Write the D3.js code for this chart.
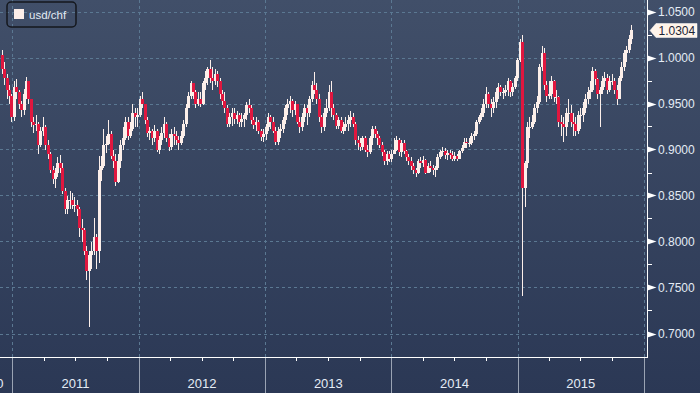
<!DOCTYPE html>
<html><head><meta charset="utf-8">
<script src="https://cdn.jsdelivr.net/npm/d3@7"></script>
<style>html,body{margin:0;padding:0;background:#2d3a57;overflow:hidden}</style>
</head><body>
<svg id="chart" width="700" height="393"></svg>
<script>
// ---- DATA (weekly candles, week ending Friday) ----
const seriesName = "usd/chf";
const firstWeekEnd = [2010, 11, 3];   // 3 Dec 2010
const firstOpen = 1.003;
const close2010 = [0.988,0.978,0.965,0.958,0.935];
const high2010  = [1.008,0.995,0.982,0.970,0.960];
const low2010   = [0.982,0.970,0.955,0.950,0.930];
const close2011 = [0.968,0.962,0.950,0.943,0.960,0.974,0.955,0.930,0.927,0.928,0.905,0.920,0.925,0.905,0.895,0.878,0.868,0.875,0.885,0.880,0.855,0.835,0.845,0.845,0.840,0.840,0.835,0.815,0.812,0.790,0.768,0.785,0.790,0.805,0.790,0.878,0.882,0.905,0.906,0.917,0.893,0.888,0.865,0.887,0.905,0.912,0.930,0.915,0.922,0.940,0.935,0.938];
const high2011  = [0.975,0.977,0.965,0.953,0.966,0.979,0.975,0.955,0.935,0.937,0.930,0.925,0.935,0.927,0.910,0.897,0.882,0.880,0.892,0.894,0.885,0.858,0.850,0.855,0.853,0.848,0.845,0.838,0.825,0.815,0.795,0.790,0.800,0.826,0.808,0.893,0.893,0.922,0.915,0.932,0.920,0.900,0.895,0.895,0.910,0.925,0.935,0.935,0.930,0.950,0.945,0.945];
const low2011   = [0.931,0.955,0.944,0.935,0.937,0.955,0.950,0.925,0.918,0.920,0.895,0.903,0.915,0.900,0.890,0.875,0.862,0.858,0.870,0.875,0.852,0.830,0.830,0.835,0.835,0.832,0.828,0.805,0.800,0.785,0.758,0.707,0.770,0.785,0.770,0.777,0.866,0.880,0.896,0.905,0.890,0.880,0.860,0.864,0.880,0.900,0.910,0.910,0.912,0.920,0.925,0.925];
const close2012 = [0.955,0.950,0.932,0.918,0.920,0.913,0.920,0.900,0.910,0.918,0.928,0.912,0.903,0.917,0.915,0.910,0.907,0.915,0.928,0.945,0.958,0.972,0.962,0.950,0.955,0.950,0.972,0.978,0.987,0.978,0.975,0.982,0.974,0.960,0.953,0.945,0.928,0.935,0.940,0.933,0.937,0.930,0.933,0.937,0.948,0.945,0.932,0.927,0.930,0.920,0.914,0.917];
const high2012  = [0.958,0.962,0.950,0.935,0.925,0.922,0.927,0.922,0.915,0.925,0.935,0.930,0.917,0.922,0.925,0.920,0.915,0.920,0.932,0.950,0.962,0.975,0.972,0.965,0.962,0.963,0.975,0.985,0.990,0.997,0.990,0.987,0.985,0.978,0.965,0.962,0.948,0.940,0.945,0.945,0.942,0.940,0.940,0.940,0.952,0.955,0.948,0.935,0.935,0.932,0.922,0.922];
const low2012   = [0.935,0.945,0.928,0.914,0.910,0.905,0.908,0.897,0.895,0.905,0.912,0.908,0.898,0.900,0.905,0.905,0.900,0.905,0.912,0.925,0.945,0.955,0.955,0.945,0.947,0.946,0.948,0.965,0.970,0.972,0.965,0.970,0.968,0.955,0.948,0.940,0.925,0.925,0.926,0.928,0.928,0.925,0.925,0.925,0.932,0.940,0.928,0.922,0.920,0.917,0.909,0.908];
const close2013 = [0.925,0.935,0.930,0.920,0.908,0.920,0.922,0.932,0.945,0.950,0.953,0.943,0.950,0.930,0.925,0.935,0.945,0.940,0.955,0.970,0.965,0.955,0.935,0.925,0.940,0.945,0.962,0.945,0.938,0.926,0.932,0.920,0.924,0.928,0.932,0.935,0.928,0.910,0.907,0.903,0.912,0.900,0.897,0.912,0.922,0.917,0.912,0.905,0.897,0.888,0.895,0.890];
const high2013  = [0.928,0.940,0.938,0.935,0.925,0.925,0.928,0.935,0.948,0.955,0.958,0.955,0.953,0.948,0.935,0.940,0.950,0.948,0.958,0.975,0.984,0.972,0.960,0.938,0.945,0.955,0.970,0.975,0.950,0.940,0.935,0.935,0.930,0.935,0.938,0.942,0.940,0.930,0.915,0.912,0.915,0.915,0.905,0.915,0.926,0.926,0.920,0.915,0.908,0.900,0.898,0.898];
const low2013   = [0.910,0.920,0.922,0.918,0.905,0.905,0.912,0.918,0.928,0.938,0.940,0.935,0.938,0.928,0.918,0.920,0.930,0.927,0.935,0.952,0.960,0.950,0.930,0.918,0.920,0.935,0.942,0.935,0.932,0.922,0.922,0.918,0.917,0.920,0.920,0.925,0.925,0.905,0.900,0.898,0.900,0.897,0.892,0.895,0.905,0.912,0.905,0.902,0.893,0.883,0.883,0.886];
const close2014 = [0.895,0.900,0.910,0.897,0.907,0.898,0.892,0.888,0.882,0.878,0.875,0.887,0.885,0.889,0.875,0.882,0.880,0.878,0.880,0.892,0.897,0.898,0.894,0.896,0.894,0.890,0.893,0.890,0.898,0.902,0.908,0.907,0.907,0.915,0.917,0.930,0.935,0.940,0.950,0.960,0.950,0.945,0.952,0.962,0.968,0.962,0.963,0.965,0.975,0.962,0.968,0.978];
const high2014  = [0.900,0.912,0.915,0.912,0.910,0.910,0.900,0.895,0.892,0.885,0.880,0.890,0.892,0.893,0.890,0.885,0.887,0.883,0.882,0.895,0.900,0.903,0.902,0.900,0.900,0.898,0.897,0.895,0.900,0.905,0.912,0.913,0.912,0.918,0.920,0.932,0.938,0.945,0.955,0.968,0.962,0.955,0.957,0.967,0.972,0.970,0.967,0.970,0.978,0.976,0.972,0.980];
const low2014   = [0.886,0.895,0.898,0.893,0.892,0.895,0.888,0.883,0.878,0.873,0.870,0.873,0.880,0.881,0.873,0.875,0.876,0.872,0.870,0.878,0.890,0.893,0.890,0.889,0.890,0.888,0.887,0.887,0.890,0.896,0.902,0.902,0.903,0.905,0.910,0.915,0.928,0.932,0.935,0.945,0.945,0.935,0.940,0.945,0.955,0.958,0.955,0.958,0.958,0.957,0.958,0.966];
const close2015 = [0.997,1.017,0.858,0.885,0.925,0.925,0.930,0.945,0.952,0.990,1.005,0.970,0.958,0.960,0.975,0.957,0.957,0.930,0.928,0.925,0.940,0.940,0.930,0.928,0.920,0.937,0.938,0.945,0.955,0.962,0.965,0.985,0.977,0.960,0.965,0.975,0.978,0.965,0.975,0.975,0.965,0.955,0.978,0.990,1.005,1.008,1.020,1.0304];
const high2015  = [1.000,1.020,1.024,0.888,0.930,0.935,0.938,0.950,0.958,0.993,1.013,1.010,0.975,0.975,0.980,0.976,0.965,0.958,0.938,0.935,0.945,0.955,0.948,0.940,0.935,0.942,0.945,0.952,0.960,0.968,0.975,0.990,0.988,0.978,0.968,0.980,0.984,0.982,0.980,0.982,0.978,0.970,0.980,0.995,1.008,1.012,1.025,1.035];
const low2015   = [0.975,0.995,0.741,0.838,0.880,0.912,0.922,0.928,0.940,0.950,0.985,0.965,0.952,0.955,0.955,0.952,0.950,0.925,0.915,0.908,0.915,0.930,0.925,0.915,0.915,0.917,0.922,0.930,0.940,0.950,0.955,0.962,0.970,0.955,0.925,0.960,0.968,0.960,0.962,0.970,0.960,0.948,0.955,0.975,0.985,0.995,1.005,1.015];
const yTicks = [0.70,0.75,0.80,0.85,0.90,0.95,1.00,1.05];
const yearLabels = ["2010","2011","2012","2013","2014","2015"];
const lastLabel = "1.0304";

// ---- BUILD ----
const closes = [].concat(close2010,close2011,close2012,close2013,close2014,close2015);
const highs  = [].concat(high2010,high2011,high2012,high2013,high2014,high2015);
const lows   = [].concat(low2010,low2011,low2012,low2013,low2014,low2015);
const candles = [];
let prevClose = firstOpen;
closes.forEach((c,i)=>{
  const end = new Date(firstWeekEnd[0], firstWeekEnd[1], firstWeekEnd[2] + 7*i);
  candles.push({date: d3.timeDay.offset(end,-2), o: prevClose, h: highs[i], l: lows[i], c});
  prevClose = c;
});

const W = 700, H = 393, plotR = 647.5, axisY = 357.5;
const svg = d3.select("#chart");
const defs = svg.append("defs");
const grad = defs.append("linearGradient").attr("id","bg").attr("x1",0).attr("y1",0).attr("x2",0).attr("y2",1);
grad.append("stop").attr("offset","0%").attr("stop-color","#414f69");
grad.append("stop").attr("offset","100%").attr("stop-color","#2b3855");
svg.append("rect").attr("width",W).attr("height",H).attr("fill","url(#bg)");
defs.append("clipPath").attr("id","plot").append("rect").attr("x",0).attr("y",0).attr("width",plotR).attr("height",axisY);

const x = d3.scaleTime().domain([new Date(2010,10,26), new Date(2016,0,10)]).range([0, 647]);
const y = d3.scaleLinear().domain([0.70,1.05]).range([333.5, 11.5]);

const grid = svg.append("g");
const years = yearLabels.map(s=>+s).concat([2016]).slice(1).map(yr=>new Date(yr,0,1));
grid.selectAll("line.h").data(yTicks).join("line")
  .attr("x1",0).attr("x2",plotR).attr("y1",d=>Math.round(y(d))+0.5).attr("y2",d=>Math.round(y(d))+0.5)
  .attr("stroke","#5b7892").attr("stroke-dasharray","3,3").attr("stroke-width",1);
grid.selectAll("line.v").data(years).join("line")
  .attr("x1",d=>Math.round(x(d))+0.5).attr("x2",d=>Math.round(x(d))+0.5).attr("y1",0).attr("y2",axisY)
  .attr("stroke","#5b7892").attr("stroke-dasharray","3,3").attr("stroke-width",1);

const cg = svg.append("g").attr("clip-path","url(#plot)").attr("shape-rendering","crispEdges");
const cream = "#fcefea", red = "#e0173f";
const cx = d => Math.round(x(d.date));
cg.selectAll("line.w").data(candles).join("line")
  .attr("x1",d=>cx(d)+0.5).attr("x2",d=>cx(d)+0.5)
  .attr("y1",d=>y(d.h)).attr("y2",d=>y(d.l))
  .attr("stroke",cream).attr("stroke-width",1);
cg.selectAll("rect.b").data(candles).join("rect")
  .attr("x",d=>cx(d)-1).attr("width",3)
  .attr("y",d=>y(Math.max(d.o,d.c)))
  .attr("height",d=>Math.max(1, Math.abs(y(d.o)-y(d.c))))
  .attr("fill",d=>d.c>=d.o?cream:red);

// axes
const ax = svg.append("g").attr("shape-rendering","crispEdges");
ax.append("line").attr("x1",0).attr("x2",plotR+0.5).attr("y1",axisY).attr("y2",axisY).attr("stroke","#ffffff").attr("stroke-width",1.3);
ax.append("line").attr("x1",plotR).attr("x2",plotR).attr("y1",0).attr("y2",axisY).attr("stroke","#ffffff").attr("stroke-width",1.3);

// x axis: quarter ticks, year separators, labels
const quarters = d3.timeMonth.every(3).range(new Date(2010,11,1), new Date(2016,0,2)).filter(d=>d.getMonth()!==0);
ax.selectAll("line.q").data(quarters).join("line")
  .attr("x1",d=>Math.round(x(d))+0.5).attr("x2",d=>Math.round(x(d))+0.5)
  .attr("y1",axisY).attr("y2",axisY+3.5).attr("stroke","#ffffff");
ax.selectAll("line.ys").data(years).join("line")
  .attr("x1",d=>Math.round(x(d))+0.5).attr("x2",d=>Math.round(x(d))+0.5)
  .attr("y1",axisY).attr("y2",H).attr("stroke","#9aa3b3");
const txt = "#e4ecf5";
svg.selectAll("text.yr").data(yearLabels).join("text")
  .attr("x",(d,i)=> i===0 ? 3.5 : (x(new Date(+d,0,1))+x(new Date(+d+1,0,1)))/2)
  .attr("y",387.5)
  .attr("text-anchor",(d,i)=> i===0 ? "end" : "middle")
  .attr("font-family","Liberation Sans, Arial, sans-serif").attr("font-size",13)
  .attr("fill",txt).text(d=>d);

// y axis: arrow ticks, minor ticks, labels
const yg = svg.append("g");
yg.selectAll("path.t").data(yTicks).join("path")
  .attr("d",d=>{const yy=Math.round(y(d))+0.5; return `M${plotR},${yy-3}L${plotR+9},${yy}L${plotR},${yy+3}Z`;})
  .attr("fill","#ffffff");
const minor = yTicks.slice(0,-1).map(v=>v+0.025);
yg.selectAll("line.m").data(minor).join("line")
  .attr("x1",plotR).attr("x2",plotR+4).attr("y1",d=>Math.round(y(d))+0.5).attr("y2",d=>Math.round(y(d))+0.5)
  .attr("stroke","#ffffff").attr("shape-rendering","crispEdges");
yg.selectAll("text").data(yTicks).join("text")
  .attr("x",658).attr("y",d=>y(d)+4.5)
  .attr("font-family","Liberation Sans, Arial, sans-serif").attr("font-size",12)
  .attr("fill",txt).text(d=>d.toFixed(4));

// last price tag
const lastV = closes[closes.length-1];
const ly = Math.round(y(lastV))+0.5;
svg.append("path").attr("d",`M650,${ly}L656,${ly-7}L697,${ly-7}L697,${ly+7}L656,${ly+7}Z`)
  .attr("fill","#fff4ea").attr("stroke","#ffffff").attr("stroke-width",0.5);
svg.append("text").attr("x",658.5).attr("y",ly+4.3)
  .attr("font-family","Liberation Sans, Arial, sans-serif").attr("font-size",12)
  .attr("fill","#1c2435").text(lastLabel);

// legend
const lg = svg.append("g");
lg.append("rect").attr("x",7).attr("y",2).attr("width",69).attr("height",25).attr("rx",4)
  .attr("fill","none").attr("stroke","#14171d").attr("stroke-width",1.5);
lg.append("rect").attr("x",14).attr("y",9).attr("width",10).attr("height",10).attr("fill","#fdeee9");
lg.append("text").attr("x",29).attr("y",19).attr("font-family","Liberation Sans, Arial, sans-serif")
  .attr("font-size",11.5).attr("fill",txt).text(seriesName);
</script>
</body></html>
